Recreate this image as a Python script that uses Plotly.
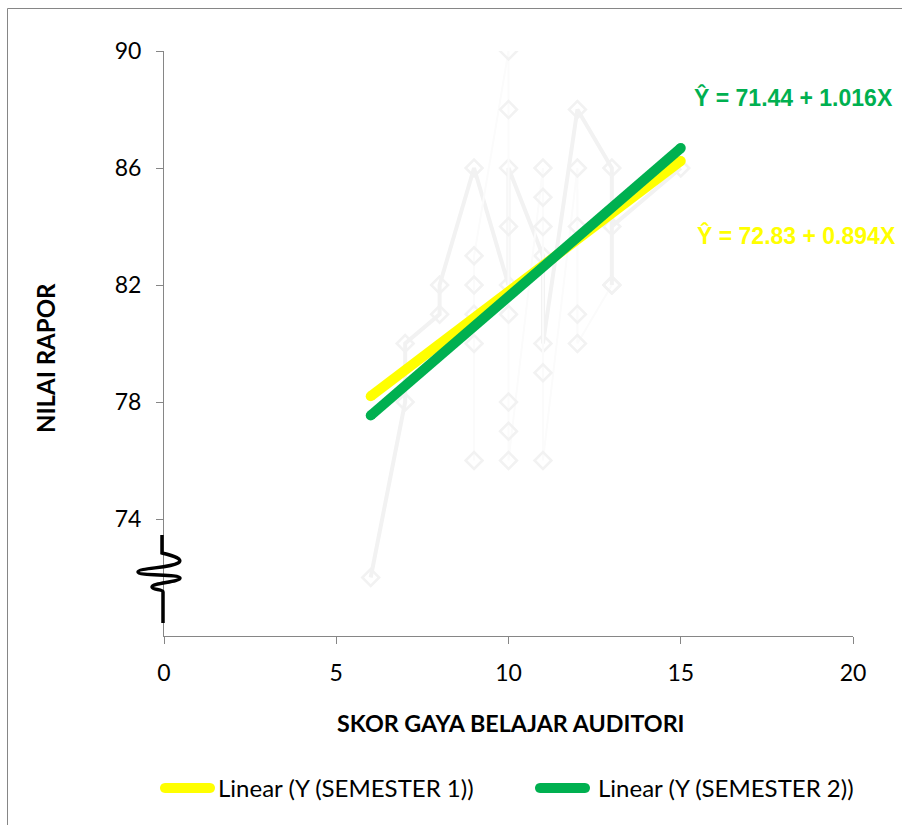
import plotly.graph_objects as go

# Raw scores (faint background series)
sem1_x = [6, 7, 7, 8, 8, 9, 10, 10, 11, 11, 12, 13, 13, 13, 15]
sem1_y = [72, 78, 80, 81, 82, 86, 82, 86, 83, 80, 88, 86, 82, 84, 86]
sem2_x = [9, 9, 9, 9, 9, 10, 10, 10, 10, 10, 10, 10, 11, 11, 11, 11, 11, 12, 12, 12, 12, 13]
sem2_y = [76, 80, 81, 82, 83, 90, 88, 84, 81, 78, 77, 76, 86, 85, 84, 79, 76, 86, 84, 81, 80, 82]

# Regression lines  Y = a + bX
fit_x = [6, 15]
sem1_a, sem1_b = 72.83, 0.894
sem2_a, sem2_b = 71.44, 1.016
sem1_fit = [sem1_a + sem1_b * x for x in fit_x]
sem2_fit = [sem2_a + sem2_b * x for x in fit_x]

x_ticks = [0, 5, 10, 15, 20]
y_ticks = [74, 78, 82, 86, 90]

legend_labels = ["Linear (Y (SEMESTER 1))", "Linear (Y (SEMESTER 2))"]
eq_labels = ["Ŷ = 72.83 + 0.894X", "Ŷ = 71.44 + 1.016X"]

YELLOW = "#FFFF00"
GREEN = "#00B050"
FAINT = "#F2F2F2"
AXIS = "#868686"
FONT = "Lato, 'Liberation Sans', sans-serif"
EQ_FONT = "'Liberation Sans', Arial, sans-serif"

W, H = 902, 825
L, R, T, B = 164, 49, 51, 189
PW, PH = W - L - R, H - T - B


def px(x):
    return (x - L) / PW


def py(y):
    return (H - B - y) / PH


fig = go.Figure()

fig.add_trace(go.Scatter(
    x=sem1_x, y=sem1_y, mode="lines+markers",
    line=dict(color=FAINT, width=4),
    marker=dict(symbol="diamond-open", size=13, color=FAINT, line=dict(width=2.5, color=FAINT)),
    showlegend=False, hoverinfo="skip"))
fig.add_trace(go.Scatter(
    x=sem2_x, y=sem2_y, mode="lines+markers",
    line=dict(color="#FBFBFB", width=2),
    marker=dict(symbol="diamond-open", size=13, color=FAINT, line=dict(width=2.5, color=FAINT)),
    showlegend=False, hoverinfo="skip"))

for ys, col in ((sem1_fit, YELLOW), (sem2_fit, GREEN)):
    fig.add_trace(go.Scatter(
        x=fit_x, y=ys, mode="lines+markers",
        line=dict(color=col, width=10),
        marker=dict(symbol="circle", size=10, color=col, line=dict(width=0)),
        showlegend=False, hoverinfo="skip"))

axis_common = dict(
    showline=True, linecolor=AXIS, linewidth=1, ticks="outside", ticklen=7,
    tickcolor=AXIS, tickwidth=1, showgrid=False, zeroline=False,
    tickfont=dict(family=FONT, size=23, color="#000000"),
)
fig.update_xaxes(range=[0, 20], tickvals=x_ticks, ticklabelstandoff=9, **axis_common)
fig.update_yaxes(range=[70, 90], tickvals=y_ticks, ticklabelstandoff=10, **axis_common)

shapes = []
# outer chart border
shapes.append(dict(type="rect", xref="paper", yref="paper",
                   x0=px(7.5), x1=px(910), y0=py(835), y1=py(8.5),
                   line=dict(color=AXIS, width=1), fillcolor="rgba(0,0,0,0)", layer="below"))
# axis break mark on the y axis
shapes.append(dict(type="path", xref="paper", yref="paper", xsizemode="pixel", ysizemode="pixel",
                   xanchor=px(164), yanchor=py(578),
                   path="M -2,43 L -2,25 C 10,22 20,19 14,15 C 6,10 -26,10 -26,6 "
                        "C -26,2 16,4 16,0 C 16,-4 -12,-5 -12,-9 C -12,-12 -1,-11 -1,-14 L -1,-45",
                   line=dict(color="#000000", width=3.5), fillcolor="rgba(0,0,0,0)"))
# legend keys (capsules)
cap = "M 0,-5 L 45,-5 C 51.7,-5 51.7,5 45,5 L 0,5 C -6.7,5 -6.7,-5 0,-5 Z"
for key_x, col in ((165, YELLOW), (540, GREEN)):
    shapes.append(dict(type="path", xref="paper", yref="paper", xsizemode="pixel", ysizemode="pixel",
                       xanchor=px(key_x), yanchor=py(788), path=cap,
                       line=dict(color=col, width=0), fillcolor=col))

annotations = [
    dict(text="SKOR GAYA BELAJAR AUDITORI", xref="paper", yref="paper", x=px(511), y=py(723),
         xanchor="center", yanchor="middle", showarrow=False,
         font=dict(family=FONT, size=23.3, color="#000000", weight="bold")),
    dict(text="NILAI RAPOR", xref="paper", yref="paper", x=px(45), y=py(358), textangle=-90,
         xanchor="center", yanchor="middle", showarrow=False,
         font=dict(family=FONT, size=24, color="#000000", weight="bold")),
    dict(text=legend_labels[0], xref="paper", yref="paper", x=px(216), y=py(787),
         xanchor="left", yanchor="middle", showarrow=False,
         font=dict(family=FONT, size=24, color="#000000")),
    dict(text=legend_labels[1], xref="paper", yref="paper", x=px(596), y=py(787),
         xanchor="left", yanchor="middle", showarrow=False,
         font=dict(family=FONT, size=24, color="#000000")),
    dict(text=eq_labels[1], xref="paper", yref="paper", x=px(793), y=py(97),
         xanchor="center", yanchor="middle", showarrow=False,
         font=dict(family=EQ_FONT, size=23, color=GREEN, weight="bold")),
    dict(text=eq_labels[0], xref="paper", yref="paper", x=px(796), y=py(235),
         xanchor="center", yanchor="middle", showarrow=False,
         font=dict(family=EQ_FONT, size=23, color=YELLOW, weight="bold")),
]

fig.update_layout(
    width=W, height=H, autosize=False,
    margin=dict(l=L, r=R, t=T, b=B),
    paper_bgcolor="#FFFFFF", plot_bgcolor="#FFFFFF",
    shapes=shapes, annotations=annotations, showlegend=False,
)

fig.write_html("out.html")
